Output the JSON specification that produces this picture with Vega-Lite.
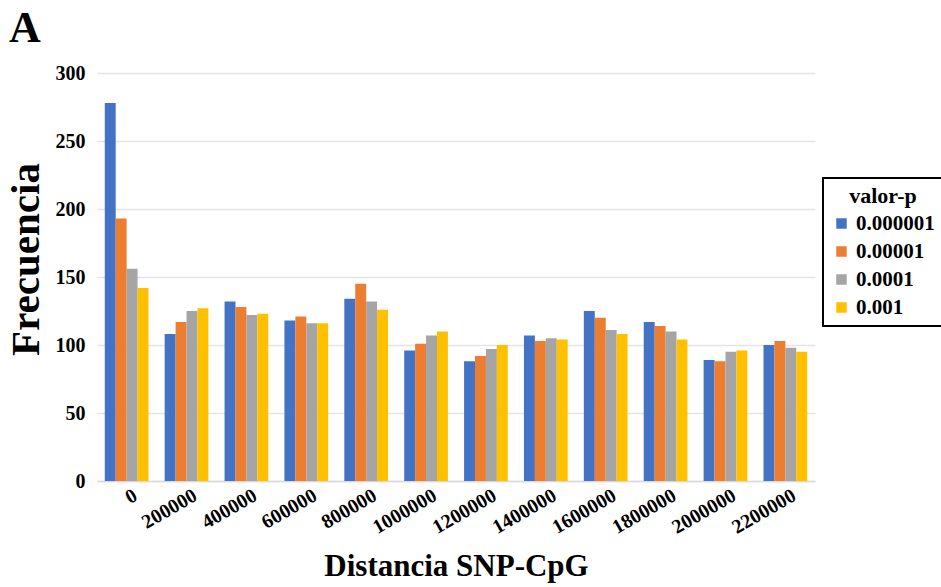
{
  "$schema": "https://vega.github.io/schema/vega-lite/v6.json",
  "width": 718,
  "height": 408,
  "padding": {"left": 5, "top": 7, "right": 5, "bottom": 2},
  "background": "white",
  "title": {"text": "A", "anchor": "start", "frame": "bounds", "font": "Liberation Serif", "fontSize": 44, "fontWeight": "bold", "color": "black", "offset": 12, "dx": 4},
  "config": {
    "view": {"stroke": null},
    "font": "Liberation Serif",
    "legend": {"strokeWidth": 2}
  },
  "data": {"values": [
    {"d": "0", "p": "0.000001", "f": 278}, {"d": "0", "p": "0.00001", "f": 193}, {"d": "0", "p": "0.0001", "f": 156}, {"d": "0", "p": "0.001", "f": 142},
    {"d": "200000", "p": "0.000001", "f": 108}, {"d": "200000", "p": "0.00001", "f": 117}, {"d": "200000", "p": "0.0001", "f": 125}, {"d": "200000", "p": "0.001", "f": 127},
    {"d": "400000", "p": "0.000001", "f": 132}, {"d": "400000", "p": "0.00001", "f": 128}, {"d": "400000", "p": "0.0001", "f": 122}, {"d": "400000", "p": "0.001", "f": 123},
    {"d": "600000", "p": "0.000001", "f": 118}, {"d": "600000", "p": "0.00001", "f": 121}, {"d": "600000", "p": "0.0001", "f": 116}, {"d": "600000", "p": "0.001", "f": 116},
    {"d": "800000", "p": "0.000001", "f": 134}, {"d": "800000", "p": "0.00001", "f": 145}, {"d": "800000", "p": "0.0001", "f": 132}, {"d": "800000", "p": "0.001", "f": 126},
    {"d": "1000000", "p": "0.000001", "f": 96}, {"d": "1000000", "p": "0.00001", "f": 101}, {"d": "1000000", "p": "0.0001", "f": 107}, {"d": "1000000", "p": "0.001", "f": 110},
    {"d": "1200000", "p": "0.000001", "f": 88}, {"d": "1200000", "p": "0.00001", "f": 92}, {"d": "1200000", "p": "0.0001", "f": 97}, {"d": "1200000", "p": "0.001", "f": 100},
    {"d": "1400000", "p": "0.000001", "f": 107}, {"d": "1400000", "p": "0.00001", "f": 103}, {"d": "1400000", "p": "0.0001", "f": 105}, {"d": "1400000", "p": "0.001", "f": 104},
    {"d": "1600000", "p": "0.000001", "f": 125}, {"d": "1600000", "p": "0.00001", "f": 120}, {"d": "1600000", "p": "0.0001", "f": 111}, {"d": "1600000", "p": "0.001", "f": 108},
    {"d": "1800000", "p": "0.000001", "f": 117}, {"d": "1800000", "p": "0.00001", "f": 114}, {"d": "1800000", "p": "0.0001", "f": 110}, {"d": "1800000", "p": "0.001", "f": 104},
    {"d": "2000000", "p": "0.000001", "f": 89}, {"d": "2000000", "p": "0.00001", "f": 88}, {"d": "2000000", "p": "0.0001", "f": 95}, {"d": "2000000", "p": "0.001", "f": 96},
    {"d": "2200000", "p": "0.000001", "f": 100}, {"d": "2200000", "p": "0.00001", "f": 103}, {"d": "2200000", "p": "0.0001", "f": 98}, {"d": "2200000", "p": "0.001", "f": 95}
  ]},
  "mark": {"type": "bar"},
  "encoding": {
    "x": {
      "field": "d", "type": "nominal", "sort": null,
      "scale": {"paddingInner": 0.27, "paddingOuter": 0.13},
      "axis": {
        "title": "Distancia SNP-CpG",
        "titleFont": "Liberation Serif", "titleFontSize": 31, "titleFontWeight": "bold", "titleColor": "black", "titlePadding": 14,
        "labelFont": "Liberation Serif", "labelFontSize": 20, "labelFontWeight": "bold", "labelColor": "black",
        "labelAngle": -30, "labelAlign": "right", "labelBaseline": "top", "labelPadding": 4, "labelOffset": 4,
        "ticks": false, "domainColor": "#d9d9d9", "domainWidth": 1.5
      }
    },
    "xOffset": {"field": "p", "type": "nominal", "sort": null, "scale": {"paddingInner": 0, "paddingOuter": 0}},
    "y": {
      "field": "f", "type": "quantitative",
      "scale": {"domain": [0, 300]},
      "axis": {
        "title": "Frecuencia", "titleY": 186,
        "titleFont": "Liberation Serif", "titleFontSize": 41, "titleFontWeight": "bold", "titleColor": "black", "titlePadding": 8,
        "labelFont": "Liberation Serif", "labelFontSize": 20, "labelFontWeight": "bold", "labelColor": "black", "labelPadding": 12,
        "values": [0, 50, 100, 150, 200, 250, 300],
        "ticks": false, "domain": false, "gridColor": "#e4e4e4", "gridWidth": 1.5
      }
    },
    "color": {
      "field": "p", "type": "nominal", "sort": null,
      "scale": {"domain": ["0.000001","0.00001","0.0001","0.001"], "range": ["#4472C4", "#ED7D31", "#A5A5A5", "#FFC000"]},
      "legend": {
        "title": "valor-p", "orient": "none", "legendX": 726, "legendY": 105,
        "titleFont": "Liberation Serif", "titleFontSize": 22, "titleFontWeight": "bold", "titleColor": "black", "titleAnchor": "middle",
        "labelFont": "Liberation Serif", "labelFontSize": 21, "labelFontWeight": "bold", "labelColor": "black",
        "symbolType": "square", "symbolSize": 110, "symbolStrokeWidth": 0,
        "strokeColor": "black", "padding": 8, "rowPadding": 6, "fillColor": "white"
      }
    }
  }
}
